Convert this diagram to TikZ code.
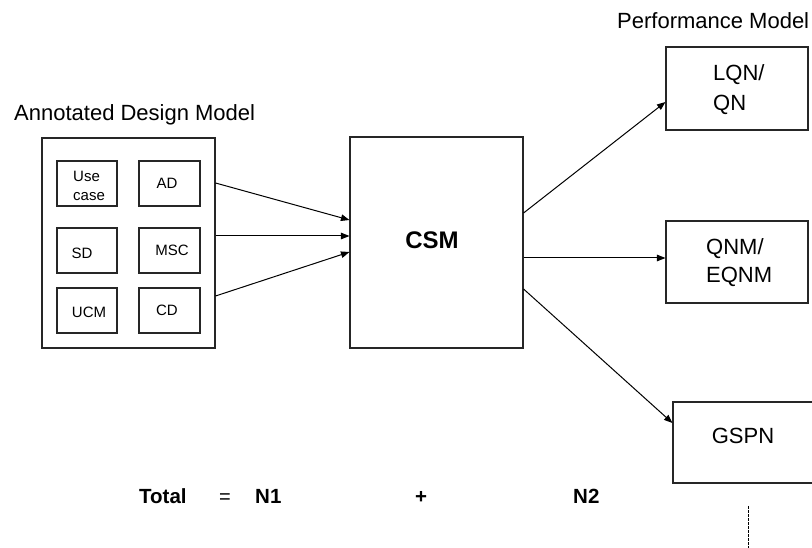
\documentclass[tikz,border=0pt]{standalone}
\usepackage{fontspec}
\setmainfont{Liberation Sans}
\usetikzlibrary{arrows.meta}
\tikzset{
  box/.style={draw=black!85, line width=1.1pt, inner sep=0pt},
  lbl/.style={inner sep=0pt, font=\fontsize{22}{26}\selectfont},
  small/.style={inner sep=0pt, font=\fontsize{15}{17}\selectfont},
  bigb/.style={inner sep=0pt, font=\fontsize{24}{28}\selectfont\bfseries},
  eqn/.style={inner sep=0pt, anchor=base, font=\fontsize{20.5}{24}\selectfont\bfseries},
  flow/.style={line width=1pt, -{Triangle[length=8.5pt,width=6.5pt]}},
}
\begin{document}
\begin{tikzpicture}[x=1pt, y=-1pt]
\useasboundingbox (0,0) rectangle (812,548);
\clip (0,0) rectangle (812,548);

% headings
\node[lbl, anchor=base west] (adm) at (14,121) {Annotated Design Model};
\node[lbl, anchor=base west] (pm) at (617,29) {Performance Model};

% annotated design model and its parts
\node[box, minimum width=173pt, minimum height=210pt] (design) at (128.5,243) {};
\node[box, minimum width=60pt, minimum height=45pt] (uc)  at (87,183.5) {};
\node[box, minimum width=61pt, minimum height=45pt] (ad)  at (169.5,183.5) {};
\node[box, minimum width=60pt, minimum height=45pt] (sd)  at (87,250.5) {};
\node[box, minimum width=61pt, minimum height=45pt] (msc) at (169.5,250.5) {};
\node[box, minimum width=60pt, minimum height=45pt] (ucm) at (87,310.5) {};
\node[box, minimum width=61pt, minimum height=45pt] (cd)  at (169.5,310.5) {};

\node[small, anchor=base west] (uct1) at (73,181.5) {Use};
\node[small, anchor=base west] (uct2) at (73,200.5) {case};
\node[small, anchor=base] (adt)  at (167,188.5) {AD};
\node[small, anchor=base] (sdt)  at (82,259) {SD};
\node[small, anchor=base] (msct) at (172,256) {MSC};
\node[small, anchor=base] (ucmt) at (89,318) {UCM};
\node[small, anchor=base] (cdt)  at (167,315.5) {CD};

% core scenario model
\node[box, minimum width=173pt, minimum height=211pt] (csm) at (436.5,242.5) {};
\node[bigb, anchor=base] (csmt) at (432,249) {CSM};

% performance models
\node[box, minimum width=142pt, minimum height=83pt] (lqn) at (737,88.5) {};
\node[lbl, anchor=base west] (lqnt1) at (713,81) {LQN/};
\node[lbl, anchor=base west] (lqnt2) at (713,111) {QN};

\node[box, minimum width=142pt, minimum height=82pt] (qnm) at (737,262) {};
\node[lbl, anchor=base west] (qnmt1) at (706,255) {QNM/};
\node[lbl, anchor=base west] (qnmt2) at (706,283) {EQNM};

\node[box, minimum width=147pt, minimum height=81pt] (gspn) at (746.5,442.5) {};
\node[lbl, anchor=base] (gspnt) at (743,443) {GSPN};

% transformations
\draw[flow] ([yshift=60pt]design.east) -- ([yshift=22.5pt]csm.west);
\draw[flow] ([yshift=7pt]design.east) -- ([yshift=6.5pt]csm.west);
\draw[flow] ([yshift=-53pt]design.east) -- ([yshift=-9.5pt]csm.west);

\draw[flow] ([yshift=29.5pt]csm.east) -- ([yshift=-13.5pt]lqn.west);
\draw[flow] ([yshift=-15.5pt]csm.east) -- ([yshift=4pt]qnm.west);
\draw[flow] ([yshift=-46.5pt]csm.east) -- ([yshift=19.5pt]gspn.west);

% count of transformations
\node[eqn, anchor=base west] (tot) at (139,503) {Total};
\node[eqn, font=\fontsize{20}{24}\selectfont] (eq) at (225,503) {=};
\node[eqn, anchor=base west] (n1) at (255,503) {N1};
\node[eqn] (plus) at (421,503) {+};
\node[eqn, anchor=base west] (n2) at (573,503) {N2};

\coordinate (dtop) at (748,506);
\coordinate (dbot) at (748,548);
\draw[line width=0.6pt, dash pattern=on 2.5pt off 1.5pt] (dtop) -- (dbot);
\end{tikzpicture}
\end{document}
